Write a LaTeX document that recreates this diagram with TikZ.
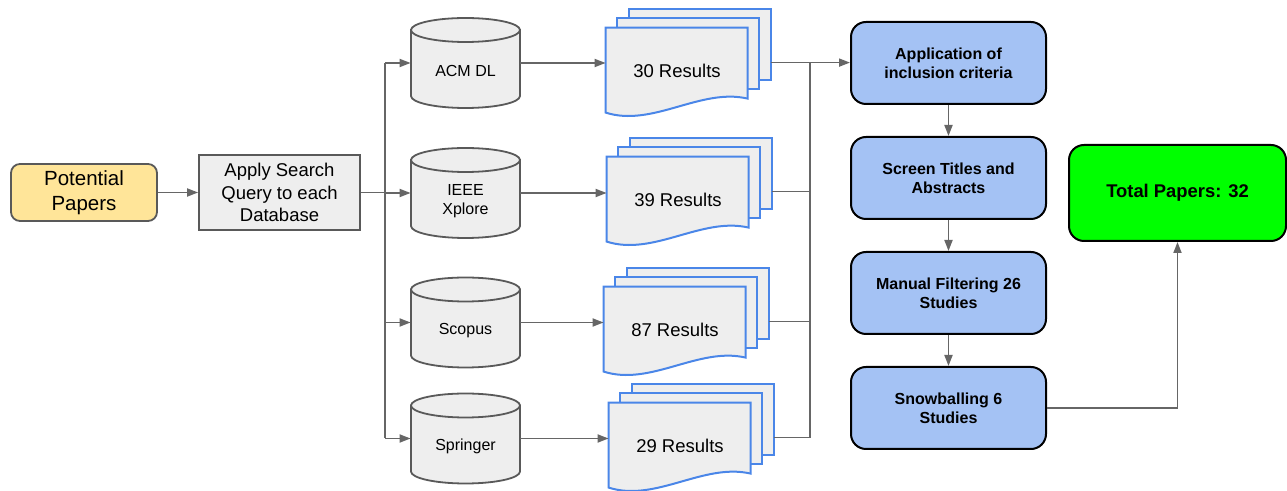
\documentclass[tikz,border=0pt]{standalone}
\usepackage{fontspec}
\setmainfont{Liberation Sans}
\usetikzlibrary{arrows.meta, positioning, calc, backgrounds}

\definecolor{paperyellow}{HTML}{FFE599}
\definecolor{boxgray}{HTML}{EEEEEE}
\definecolor{linegray}{HTML}{666666}
\definecolor{edgegray}{HTML}{595959}
\definecolor{pageblue}{HTML}{4A86E8}
\definecolor{stageblue}{HTML}{A4C2F4}
\definecolor{totalgreen}{HTML}{00FF00}

\begin{document}
\begin{tikzpicture}[x=0.5pt, y=-0.5pt,
    start/.style={rectangle, rounded corners=4.5pt, draw=edgegray, fill=paperyellow, line width=0.9pt, minimum width=73pt, minimum height=27.5pt, align=center, font=\fontsize{10.25}{12.3}\selectfont},
    query/.style={rectangle, draw=edgegray, fill=boxgray, line width=0.9pt, minimum width=80.5pt, minimum height=37.5pt, inner sep=0pt, align=center, font=\fontsize{9.25}{11.1}\selectfont},
    db/.style={rectangle, minimum width=54.5pt, minimum height=45pt, inner sep=0pt},
    dbtext/.style={font=\fontsize{8}{9.2}\selectfont, align=center, yshift=-4pt},
    dbshape/.style={draw=edgegray, fill=boxgray, line width=0.9pt},
    results/.style={rectangle, minimum width=71pt, minimum height=42.5pt, inner sep=0pt, font=\fontsize{9.25}{11.1}\selectfont},
    page/.style={draw=pageblue, fill=boxgray, line width=1pt},
    stage/.style={rectangle, rounded corners=7.5pt, draw=black, fill=stageblue, line width=1pt, minimum width=97.5pt, minimum height=41pt, inner sep=0pt, align=center, font=\fontsize{8}{9.5}\selectfont\bfseries},
    final/.style={rectangle, rounded corners=7.5pt, draw=black, fill=totalgreen, line width=1pt, minimum width=108.5pt, minimum height=48pt, font=\fontsize{9.2}{11}\selectfont\bfseries},
    link/.style={draw=linegray, line width=0.9pt},
    arrow/.style={-{Triangle[length=5.5pt, width=4pt]}, draw=linegray, line width=0.9pt}
]
    \useasboundingbox (0,0) rectangle (1287,491);

    \node[start] (potential) at (84,192.5) {Potential\\Papers};
    \node[query] (query) at (279.5,192.5) {Apply Search\\Query to each\\Database};

    % Databases
    \node[db, label={[dbtext]center:ACM DL}] (acm) at (465.5,63) {};
    \node[db, label={[dbtext]center:IEEE\\Xplore}] (ieee) at (465.5,193) {};
    \node[db, label={[dbtext]center:Scopus}] (scopus) at (465.5,322.5) {};
    \node[db, label={[dbtext]center:Springer}] (springer) at (465.5,438.5) {};

    % Search results
    \node[results] (acmres) at (677,70.5) {30 Results};
    \node[results] (ieeeres) at (678,199.5) {39 Results};
    \node[results] (scopusres) at (675,329.5) {87 Results};
    \node[results] (springerres) at (680,445.5) {29 Results};

    \begin{scope}[on background layer]
        \foreach \db in {acm, ieee, scopus, springer} {
            \begin{scope}[shift={(\db.center)}]
                \filldraw[dbshape] (-54.5,-33) -- (-54.5,33) arc[start angle=180, end angle=0, x radius=54.5, y radius=12] -- (54.5,-33) -- cycle;
                \filldraw[dbshape] (0,-33) ellipse[x radius=54.5, y radius=12];
            \end{scope}
        }
        \foreach \res in {acmres, ieeeres, scopusres, springerres} {
            \begin{scope}[shift={(\res.north west)}]
                \filldraw[page] (23,-19) rectangle (165,52);
                \filldraw[page] (11.5,-9.5) rectangle (153.5,61.5);
                \filldraw[page] (0,0) -- (142,0) -- (142,71) .. controls (95,60) and (47,100) .. (0,85) -- cycle;
                \coordinate (\res-out) at (165,35);
            \end{scope}
        }
    \end{scope}

    % Screening stages
    \node[stage] (app) at (948.5,63) {Application of\\inclusion criteria};
    \node[stage, below=15.5pt of app] (screen) {Screen Titles and\\Abstracts};
    \node[stage, below=15.5pt of screen] (manual) {Manual Filtering 26\\Studies};
    \node[stage, below=15.5pt of manual] (snow) {Snowballing 6\\Studies};
    \node[final] (total) at (1177.5,193) {Total Papers: 32};

    % Arrows
    \coordinate (fork) at (385,192.5);
    \coordinate (merge) at (810,63);
    \draw[arrow] (potential) -- (query);
    \draw[link] (query) -- (fork);
    \draw[link] (acm -| fork) -- (springer -| fork);
    \foreach \db in {acm, ieee, scopus, springer}
        \draw[arrow] (\db -| fork) -- (\db);
    \foreach \db/\res in {acm/acmres, ieee/ieeeres, scopus/scopusres, springer/springerres}
        \draw[arrow] (\db) -- (\db -| \res.west);
    \draw[link] (merge) -- (springerres-out -| merge);
    \foreach \res in {ieeeres, scopusres, springerres}
        \draw[link] (\res-out) -- (\res-out -| merge);
    \draw[arrow] (acmres-out) -- (acmres-out -| app.west);
    \draw[arrow] (app) -- (screen);
    \draw[arrow] (screen) -- (manual);
    \draw[arrow] (manual) -- (snow);
    \draw[arrow] (snow) -| (total);

\end{tikzpicture}
\end{document}
